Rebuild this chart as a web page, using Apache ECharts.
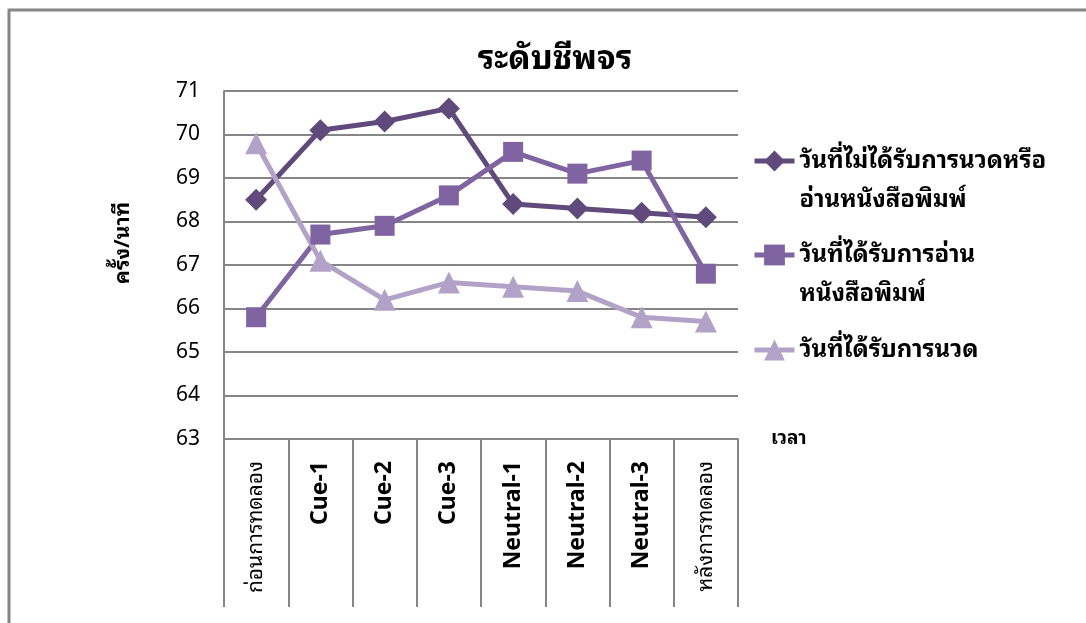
<!DOCTYPE html>
<html>
<head>
<meta charset="utf-8">
<script src="https://cdn.jsdelivr.net/npm/echarts@6/dist/echarts.min.js"></script>
<style>
  html, body { margin: 0; padding: 0; background: #fff; }
  #chart { width: 1086px; height: 623px; }
</style>
</head>
<body>
<div id="chart"></div>
<script>
// Pulse rate (beats/min) across the experiment phases
const categories = ['ก่อนการทดลอง', 'Cue-1', 'Cue-2', 'Cue-3', 'Neutral-1', 'Neutral-2', 'Neutral-3', 'หลังการทดลอง'];
const seriesNames = [
  'วันที่ไม่ได้รับการนวดหรือ\nอ่านหนังสือพิมพ์',
  'วันที่ได้รับการอ่าน\nหนังสือพิมพ์',
  'วันที่ได้รับการนวด'
];
const noTreatment = [68.5, 70.1, 70.3, 70.6, 68.4, 68.3, 68.2, 68.1];
const newspaper   = [65.8, 67.7, 67.9, 68.6, 69.6, 69.1, 69.4, 66.8];
const massage     = [69.8, 67.1, 66.2, 66.6, 66.5, 66.4, 65.8, 65.7];
const yTicks = [63, 64, 65, 66, 67, 68, 69, 70, 71];
const titleText = 'ระดับชีพจร';
const yAxisTitle = 'ครั้ง/นาที';
const xAxisTitle = 'เวลา';

const THAI = '"Noto Sans Thai Looped", Loma, Garuda, "Noto Sans Thai", "Noto Sans", sans-serif';
const LATIN = '"Noto Sans", "Open Sans", "DejaVu Sans", sans-serif';
const colors = ['#604A7B', '#8064A2', '#B3A2C7'];
const grey = '#868686';
const LINE_H = 39;

const chart = echarts.init(document.getElementById('chart'), null, { renderer: 'canvas' });

function lineSeries(name, data, symbol, size, color) {
  return {
    name: name, type: 'line', data: data,
    symbol: symbol, symbolSize: size,
    itemStyle: { color: color },
    lineStyle: { color: color, width: 5 },
    emphasis: { disabled: true },
    animation: false
  };
}

// One legend per series so the marker sits beside the first text line.
function legendFor(idx, iconY) {
  const lines = seriesNames[idx].split('\n').length;
  const shown = lines > 1 ? 1 + lines : 1;   // blank line above keeps line 1 centred on the icon
  return {
    data: [seriesNames[idx]],
    formatter: function (n) { return lines > 1 ? '\n' + n : n; },
    left: 752, top: iconY - shown * LINE_H / 2, orient: 'vertical',
    padding: 0,
    itemWidth: 40, itemHeight: 26,
    lineStyle: { width: 5 },
    textStyle: {
      fontFamily: THAI, fontSize: 24, fontWeight: 'bold', color: '#000',
      lineHeight: LINE_H
    }
  };
}

chart.setOption({
  backgroundColor: '#fff',
  animation: false,
  title: {
    text: titleText, left: 550, top: 38, textAlign: 'center',
    textStyle: { fontFamily: THAI, fontSize: 33, fontWeight: 'bold', color: '#000' }
  },
  legend: [
    legendFor(0, 161),
    legendFor(1, 255),
    legendFor(2, 350)
  ],
  grid: { left: 224, right: 348, top: 91, bottom: 184, containLabel: false },
  xAxis: {
    type: 'category', data: categories, boundaryGap: true,
    name: xAxisTitle, nameLocation: 'end', nameGap: 33,
    nameTextStyle: { fontFamily: THAI, fontSize: 19, fontWeight: 'bold', color: '#000', verticalAlign: 'middle' },
    axisLine: { show: true, lineStyle: { color: grey, width: 2 } },
    axisTick: { show: true, interval: 0, length: 168, lineStyle: { color: grey, width: 2 } },
    axisLabel: {
      interval: 0, rotate: 90, margin: 22, color: '#000', fontFamily: LATIN,
      fontSize: 23, fontWeight: 'bold',
      formatter: function (v) { return /^[A-Za-z]/.test(v) ? v : '{th|' + v + '}'; },
      rich: { th: { fontFamily: THAI, fontSize: 21, fontWeight: 'normal', color: '#000' } }
    },
    splitLine: { show: false }
  },
  yAxis: {
    type: 'value', min: yTicks[0], max: yTicks[yTicks.length - 1], interval: 1,
    name: yAxisTitle, nameLocation: 'middle', nameGap: 90, nameRotate: 90,
    nameTextStyle: { fontFamily: THAI, fontSize: 21, fontWeight: 'bold', color: '#000', padding: [0, 0, 0, 44] },
    axisLine: { show: true, lineStyle: { color: grey, width: 2 } },
    axisTick: { show: false },
    axisLabel: { margin: 24, color: '#000', fontFamily: LATIN, fontSize: 21 },
    splitLine: { show: true, lineStyle: { color: grey, width: 2 } }
  },
  graphic: [{
    type: 'polyline', silent: true,
    shape: { points: [[9, 640], [9, 10], [1090, 10]] },
    style: { stroke: grey, lineWidth: 3, fill: null }
  }],
  series: [
    lineSeries(seriesNames[0], noTreatment, 'diamond', 22, colors[0]),
    lineSeries(seriesNames[1], newspaper, 'rect', 20, colors[1]),
    lineSeries(seriesNames[2], massage, 'triangle', 22, colors[2])
  ]
});
</script>
</body>
</html>
